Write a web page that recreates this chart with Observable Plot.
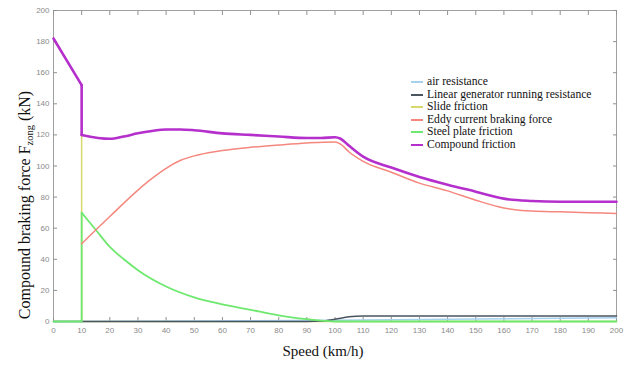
<!DOCTYPE html>
<html>
<head>
<meta charset="utf-8">
<script src="https://cdn.jsdelivr.net/npm/d3@7"></script>
<script src="https://cdn.jsdelivr.net/npm/@observablehq/plot@0.6"></script>
<style>
  body { margin: 0; background: #fff; }
  #wrap { position: relative; width: 628px; height: 367px; }
  #legend { position: absolute; left: 411px; top: 76px; font-family: "Times New Roman", "Liberation Serif", Times, "DejaVu Serif", serif; font-size: 11.6px; color: #111; line-height: 12.5px; }
  #legend .row { display: flex; align-items: center; white-space: nowrap; height: 12.5px; }
  #legend .sw { width: 12px; height: 0; margin-right: 4px; }
  .serif { font-family: "Times New Roman", "Liberation Serif", Times, "DejaVu Serif", serif; }
</style>
</head>
<body>
<div id="wrap"><div id="chart"></div><div id="legend"></div></div>
<script>
// ---- data ----
const xTicks = [0,10,20,30,40,50,60,70,80,90,100,110,120,130,140,150,160,170,180,190,200];
const yTicks = [0,20,40,60,80,100,120,140,160,180,200];

const airX = [0, 50, 100, 150, 180, 200];
const airY = [0, 0.3, 0.8, 1.6, 2.1, 2.4];

const genX = [0, 90, 95, 100, 105, 110, 200];
const genY = [0, 0, 0.3, 1.5, 3, 3.5, 3.5];

const slideX = [10, 10, 200];
const slideY = [120, 0, 0];

const eddyX = [10, 20, 30, 35, 40, 45, 50, 55, 60, 70, 80, 90, 100, 102, 105, 110, 120, 130, 140, 150, 160, 170, 180, 190, 200];
const eddyY = [50, 67.5, 84.5, 92, 98.5, 103.5, 106.5, 108.5, 110, 112, 113.5, 114.8, 115.5, 114, 109, 103, 96, 89, 84, 78, 73, 71, 70.5, 70, 69.5];

const steelX = [0, 10, 10, 15, 20, 25, 30, 40, 50, 60, 70, 80, 90, 95, 100, 200];
const steelY = [0, 0, 70, 59, 48, 40, 33, 22.5, 15.5, 11, 7.5, 4, 1.5, 0.5, 0, 0];

const compX = [0, 10, 10, 20, 25, 30, 35, 40, 45, 50, 60, 70, 80, 90, 95, 100, 102, 105, 110, 120, 130, 140, 150, 160, 170, 180, 190, 200];
const compY = [182, 152, 120, 117.5, 119, 121, 122.5, 123.5, 123.5, 123, 121, 120, 119, 118, 118, 118.5, 117.5, 113, 106, 99, 93, 88, 83.5, 79, 77.5, 77, 77, 77];

const seriesNames = ["air resistance", "Linear generator running resistance", "Slide friction", "Eddy current braking force", "Steel plate friction", "Compound friction"];
const seriesColors = ["#a6d2ec", "#4a5560", "#d8d86c", "#f4877e", "#6ee86e", "#b52fcc"];
const seriesWidths = [1.5, 1.5, 1.5, 1.5, 1.8, 2.6];

// split a series into smooth segments, with straight connectors at vertical jumps
function segs(xs, ys) {
  const out = [];
  let s = 0;
  xs.forEach((x, i) => {
    if (i > 0 && x === xs[i - 1]) {
      out.push({x: xs[i - 1], y: ys[i - 1], z: "c" + i}, {x, y: ys[i], z: "c" + i});
      s++;
    }
    out.push({x, y: ys[i], z: "s" + s});
  });
  return out;
}
const seriesData = [segs(airX, airY), segs(genX, genY), segs(slideX, slideY), segs(eddyX, eddyY), segs(steelX, steelY), segs(compX, compY)];
const drawOrder = [2, 0, 1, 4, 3, 5];

const chart = Plot.plot({
  width: 628, height: 367,
  marginLeft: 53, marginRight: 12, marginTop: 10, marginBottom: 46,
  x: {domain: [0, 200]},
  y: {domain: [0, 200]},
  style: {fontFamily: "Liberation Sans, Arial, sans-serif", fontSize: "8px", color: "#8a8a8a", background: "#fff"},
  marks: [
    Plot.frame({stroke: "#a0a0a0", strokeWidth: 1}),
    Plot.axisX({ticks: xTicks, tickSize: -4, tickPadding: 10, stroke: "#909090", label: null, fill: "#8a8a8a"}),
    Plot.axisX({ticks: xTicks, anchor: "top", tickSize: -4, stroke: "#909090", text: null, label: null}),
    Plot.axisY({ticks: yTicks, tickSize: -4, tickPadding: 8, stroke: "#909090", label: null, fill: "#8a8a8a"}),
    Plot.axisY({ticks: yTicks, anchor: "right", tickSize: -4, stroke: "#909090", text: null, label: null}),
    ...drawOrder.map(i => Plot.line(seriesData[i], {x: "x", y: "y", z: "z", stroke: seriesColors[i], strokeWidth: seriesWidths[i], curve: "monotone-x", strokeLinejoin: "round", strokeLinecap: "round"}))
  ]
});
document.getElementById("chart").appendChild(chart);

// axis titles
const svg = d3.select(chart);
svg.append("text")
  .attr("class", "serif")
  .attr("x", 323).attr("y", 356)
  .attr("text-anchor", "middle")
  .style("font-size", "15px").attr("fill", "#111")
  .text("Speed (km/h)");
const yl = svg.append("text")
  .attr("class", "serif")
  .attr("transform", "translate(30,205) rotate(-90)")
  .attr("text-anchor", "middle")
  .style("font-size", "16px").attr("fill", "#111");
yl.append("tspan").text("Compound braking force F");
yl.append("tspan").style("font-size", "10.5px").attr("dy", 3).text("zong");
yl.append("tspan").attr("dy", -3).text(" (kN)");

// legend
const legend = d3.select("#legend");
seriesNames.forEach((n, i) => {
  const r = legend.append("div").attr("class", "row");
  r.append("div").attr("class", "sw").style("border-top", `${i === 5 ? 2.5 : 2}px solid ${seriesColors[i]}`);
  r.append("span").text(n);
});
</script>
</body>
</html>
